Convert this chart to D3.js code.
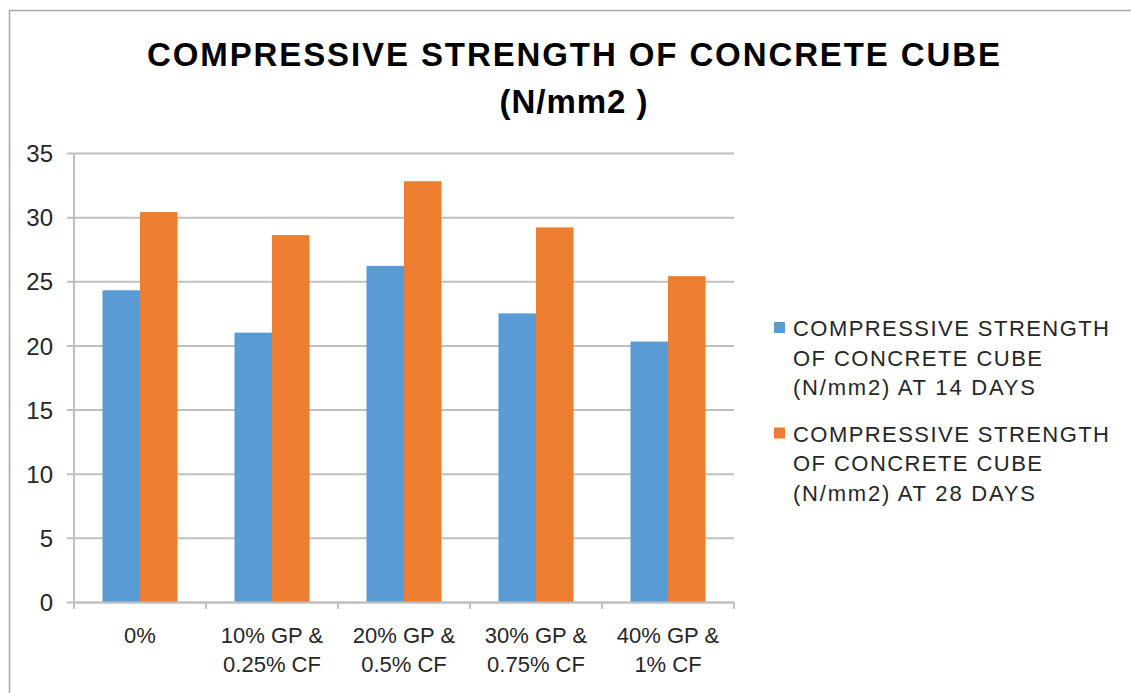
<!DOCTYPE html>
<html>
<head>
<meta charset="utf-8">
<script src="https://cdn.jsdelivr.net/npm/d3@7"></script>
<style>
  html, body { margin: 0; padding: 0; background: #fff; }
  svg { display: block; }
  svg text { font-family: 'Liberation Sans', Arial, sans-serif; }
</style>
</head>
<body>
<svg id="chart" width="1131" height="693"></svg>
<script>
// Mix labels (x categories)
const categories = [
  ["0%"],
  ["10% GP &", "0.25% CF"],
  ["20% GP &", "0.5% CF"],
  ["30% GP &", "0.75% CF"],
  ["40% GP &", "1% CF"]
];
const categoryKeys = ["0%", "10% GP & 0.25% CF", "20% GP & 0.5% CF", "30% GP & 0.75% CF", "40% GP & 1% CF"];

// Compressive strength (N/mm2)
const strength14 = [24.3, 21.0, 26.2, 22.5, 20.3];
const strength28 = [30.4, 28.6, 32.8, 29.2, 25.4];

const seriesNames = [
  ["COMPRESSIVE STRENGTH", "OF CONCRETE CUBE", "(N/mm2) AT 14 DAYS"],
  ["COMPRESSIVE STRENGTH", "OF CONCRETE CUBE", "(N/mm2) AT 28 DAYS"]
];
const seriesColors = ["#5b9bd5", "#ed7d31"];
const yTicks = [0, 5, 10, 15, 20, 25, 30, 35];

const titleLines = ["COMPRESSIVE STRENGTH OF CONCRETE CUBE", "(N/mm2 )"];

const svg = d3.select("#chart");
const textColor = "#262626";
const gridColor = "#c0c0c0";

// outer frame
svg.append("rect")
  .attr("x", 9.5).attr("y", 10.5)
  .attr("width", 1140).attr("height", 700)
  .attr("fill", "none").attr("stroke", "#a6a6a6").attr("stroke-width", 1.5);

// title (two lines, spread to the chart's title width)
const titleSpec = [
  { y: 66, len: 853 },
  { y: 113, len: 148 }
];
titleLines.forEach((line, i) => {
  svg.append("text")
    .attr("x", 573.5).attr("y", titleSpec[i].y)
    .attr("text-anchor", "middle")
    .attr("font-size", 33).attr("font-weight", "bold").attr("fill", "#000")
    .attr("textLength", titleSpec[i].len).attr("lengthAdjust", "spacing")
    .text(line);
});

const plot = { left: 74, right: 734, top: 153, bottom: 602 };

const y = d3.scaleLinear().domain([0, 35]).range([plot.bottom, plot.top]);
const x0 = d3.scaleBand().domain(categoryKeys).range([plot.left, plot.right]).padding(0);
const groupGap = 57;
const x1 = d3.scaleBand().domain([0, 1])
  .range([groupGap / 2, x0.bandwidth() - groupGap / 2]).padding(0);

// gridlines + left ticks
const yAxis = d3.axisLeft(y).tickValues(yTicks).tickSize(-(plot.right - plot.left));
const yG = svg.append("g").attr("transform", `translate(${plot.left},0)`).call(yAxis)
  .attr("font-family", null).attr("font-size", null);
yG.select(".domain").remove();
yG.selectAll(".tick line").attr("stroke", gridColor).attr("stroke-width", 2).attr("x1", -7);
yG.selectAll(".tick text")
  .attr("font-size", 24).attr("fill", textColor)
  .attr("x", -21).attr("dy", "0.36em");

// y axis line
svg.append("line")
  .attr("x1", plot.left).attr("x2", plot.left)
  .attr("y1", plot.top).attr("y2", plot.bottom)
  .attr("stroke", gridColor).attr("stroke-width", 2);

// bars
const rows = categoryKeys.map((k, i) => ({ key: k, values: [strength14[i], strength28[i]] }));
const groups = svg.append("g").selectAll("g").data(rows).join("g")
  .attr("transform", d => `translate(${x0(d.key)},0)`);
groups.selectAll("rect").data(d => d.values.map((v, s) => ({ v, s }))).join("rect")
  .attr("x", d => x1(d.s))
  .attr("width", x1.bandwidth())
  .attr("y", d => y(d.v))
  .attr("height", d => y(0) - y(d.v))
  .attr("fill", d => seriesColors[d.s]);

// x axis line + category boundary ticks
const xAxis = d3.axisBottom(x0).tickSize(0).tickFormat("");
const xG = svg.append("g").attr("transform", `translate(0,${plot.bottom})`).call(xAxis);
xG.select(".domain").attr("stroke", gridColor).attr("stroke-width", 2);
const edges = categoryKeys.map(k => x0(k)).concat([plot.right]);
xG.selectAll("line.edge").data(edges).join("line")
  .attr("class", "edge")
  .attr("x1", d => d).attr("x2", d => d)
  .attr("y1", 0).attr("y2", 7)
  .attr("stroke", gridColor).attr("stroke-width", 2);

// category labels
categoryKeys.forEach((k, i) => {
  const cx = x0(k) + x0.bandwidth() / 2;
  const t = svg.append("text")
    .attr("x", cx).attr("y", 643)
    .attr("text-anchor", "middle")
    .attr("font-size", 22).attr("fill", textColor);
  categories[i].forEach((line, j) => {
    t.append("tspan").attr("x", cx).attr("dy", j === 0 ? 0 : 29).text(line);
  });
});

// legend
const legendBase = [336, 441.5];
const legendLineLen = [316, 249, 242];
seriesNames.forEach((lines, s) => {
  svg.append("rect")
    .attr("x", 774).attr("y", legendBase[s] - 14)
    .attr("width", 11).attr("height", 11)
    .attr("fill", seriesColors[s]);
  lines.forEach((line, j) => {
    svg.append("text")
      .attr("x", 793).attr("y", legendBase[s] + j * 29.7)
      .attr("font-size", 22).attr("fill", textColor)
      .attr("textLength", legendLineLen[j]).attr("lengthAdjust", "spacing")
      .text(line);
  });
});
</script>
</body>
</html>
